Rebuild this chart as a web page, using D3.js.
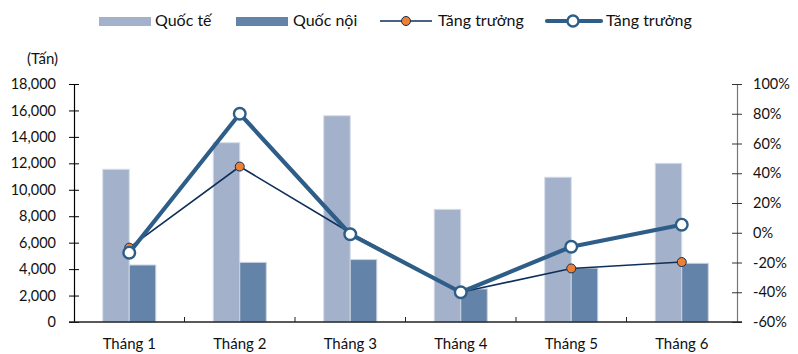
<!DOCTYPE html>
<html>
<head>
<meta charset="utf-8">
<script src="https://cdn.jsdelivr.net/npm/d3@7"></script>
<style>
  html, body { margin: 0; padding: 0; background: #fff; }
  svg { display: block; font-family: Lato, "Open Sans", sans-serif; }
</style>
</head>
<body>
<svg id="chart" width="798" height="354"></svg>
<script>
// Monthly volumes (tonnes) and growth rates (%)
const months = ["Tháng 1", "Tháng 2", "Tháng 3", "Tháng 4", "Tháng 5", "Tháng 6"];
const quocTe = [11550, 13560, 15600, 8520, 10950, 12000];
const quocNoi = [4310, 4510, 4720, 2500, 4080, 4440];
const growthThin = [-10, 44.5, 0, -40, -24, -19.7];
const growthThick = [-13.4, 80, -1, -40, -9.4, 5.4];
const leftTicks = [0, 2000, 4000, 6000, 8000, 10000, 12000, 14000, 16000, 18000];
const rightTicks = [-60, -40, -20, 0, 20, 40, 60, 80, 100];
const seriesNames = ["Quốc tế", "Quốc nội", "Tăng trưởng", "Tăng trưởng"];

const colors = {
  intl: "#a3b2ca",
  dom: "#6483a8",
  thick: "#2e5e88",
  thin: "#0f2f5a",
  orange: "#ee8033"
};

const svg = d3.select("#chart");
const m = { left: 74, right: 737, top: 84, bottom: 322 };

const x = d3.scaleBand().domain(months).range([m.left, m.right]).paddingInner(0).paddingOuter(0);
const yL = d3.scaleLinear().domain([0, 18000]).range([m.bottom, m.top]);
const yR = d3.scaleLinear().domain([-60, 100]).range([m.bottom, m.top]);
const barW = x.bandwidth() * 0.24;

// Bars
const g = svg.append("g");
g.selectAll("rect.intl").data(quocTe).join("rect")
  .attr("x", (d, i) => x(months[i]) + x.bandwidth() / 2 - barW)
  .attr("y", d => yL(d))
  .attr("width", barW)
  .attr("height", d => yL(0) - yL(d))
  .attr("fill", colors.intl)
  .attr("stroke", "#d6dce7").attr("stroke-width", 1);
g.selectAll("rect.dom").data(quocNoi).join("rect")
  .attr("x", (d, i) => x(months[i]) + x.bandwidth() / 2)
  .attr("y", d => yL(d))
  .attr("width", barW)
  .attr("height", d => yL(0) - yL(d))
  .attr("fill", colors.dom)
  .attr("stroke", "#c9d2e0").attr("stroke-width", 1);

// Axes
const tickFont = 14.5;
const labelFont = 15;
const leftAxis = d3.axisLeft(yL).tickValues(leftTicks).tickFormat(d3.format(",")).tickSize(0).tickPadding(18);
const la = svg.append("g").attr("transform", `translate(${m.left},0)`).call(leftAxis);
la.select(".domain").attr("stroke", "#000").attr("stroke-width", 1.2);
la.selectAll(".tick text").attr("font-size", tickFont).attr("fill", "#111").attr("font-family", "Lato, 'Open Sans', sans-serif");
la.selectAll(".tick").append("line").attr("x1", -5).attr("x2", 5).attr("stroke", "#000");

const rightAxis = d3.axisRight(yR).tickValues(rightTicks).tickFormat(d => d + "%").tickSize(0).tickPadding(16);
const ra = svg.append("g").attr("transform", `translate(${m.right},0)`).call(rightAxis);
ra.select(".domain").attr("stroke", "#777").attr("stroke-width", 1.2);
ra.selectAll(".tick text").attr("font-size", tickFont).attr("fill", "#111").attr("font-family", "Lato, 'Open Sans', sans-serif");
ra.selectAll(".tick").append("line").attr("x1", -5).attr("x2", 5).attr("stroke", "#333");

// Category axis
const bottomAxis = d3.axisBottom(x).tickSize(0).tickPadding(16);
const ba = svg.append("g").attr("transform", `translate(0,${m.bottom})`).call(bottomAxis);
ba.select(".domain").remove();
ba.selectAll(".tick text").attr("font-size", labelFont).attr("fill", "#111").attr("font-family", "Lato, 'Open Sans', sans-serif");
svg.append("line").attr("x1", m.left - 5).attr("x2", m.right + 5)
  .attr("y1", m.bottom).attr("y2", m.bottom).attr("stroke", "#222").attr("stroke-width", 1.3);
svg.append("g").selectAll("line").data(months.slice(1)).join("line")
  .attr("x1", d => x(d)).attr("x2", d => x(d))
  .attr("y1", m.bottom - 5).attr("y2", m.bottom).attr("stroke", "#222");

// Unit label
svg.append("text").attr("x", 27).attr("y", 64).attr("font-size", labelFont).attr("fill", "#111").text("(Tấn)");

// Growth lines
const cx = i => x(months[i]) + x.bandwidth() / 2;
const line = d3.line().x((d, i) => cx(i)).y(d => yR(d));

svg.append("path").datum(growthThin).attr("d", line)
  .attr("fill", "none").attr("stroke", colors.thin).attr("stroke-width", 1.6);
svg.append("g").selectAll("circle").data(growthThin).join("circle")
  .attr("cx", (d, i) => cx(i)).attr("cy", d => yR(d)).attr("r", 4.5)
  .attr("fill", colors.orange).attr("stroke", colors.thin).attr("stroke-width", 1);

svg.append("path").datum(growthThick).attr("d", line)
  .attr("fill", "none").attr("stroke", colors.thick).attr("stroke-width", 4.2).attr("stroke-linejoin", "round");
svg.append("g").selectAll("circle").data(growthThick).join("circle")
  .attr("cx", (d, i) => cx(i)).attr("cy", d => yR(d)).attr("r", 5.8)
  .attr("fill", "#fff").attr("stroke", colors.thick).attr("stroke-width", 2.4);

// Legend
const lg = svg.append("g").attr("font-size", 16).attr("fill", "#111");
lg.append("rect").attr("x", 99).attr("y", 17).attr("width", 52).attr("height", 9).attr("fill", colors.intl);
lg.append("text").attr("x", 155).attr("y", 26).text(seriesNames[0]);
lg.append("rect").attr("x", 236).attr("y", 17).attr("width", 52).attr("height", 9).attr("fill", colors.dom);
lg.append("text").attr("x", 293).attr("y", 26).text(seriesNames[1]);
lg.append("line").attr("x1", 380).attr("x2", 432).attr("y1", 21).attr("y2", 21).attr("stroke", colors.thin).attr("stroke-width", 1.6);
lg.append("circle").attr("cx", 406).attr("cy", 21).attr("r", 4.5).attr("fill", colors.orange).attr("stroke", colors.thin);
lg.append("text").attr("x", 438).attr("y", 26).text(seriesNames[2]);
lg.append("line").attr("x1", 547).attr("x2", 601).attr("y1", 21).attr("y2", 21).attr("stroke", colors.thick).attr("stroke-width", 4.2).attr("stroke-linecap", "round");
lg.append("circle").attr("cx", 573).attr("cy", 21).attr("r", 5.5).attr("fill", "#fff").attr("stroke", colors.thick).attr("stroke-width", 2.4);
lg.append("text").attr("x", 606).attr("y", 26).text(seriesNames[3]);
</script>
</body>
</html>
